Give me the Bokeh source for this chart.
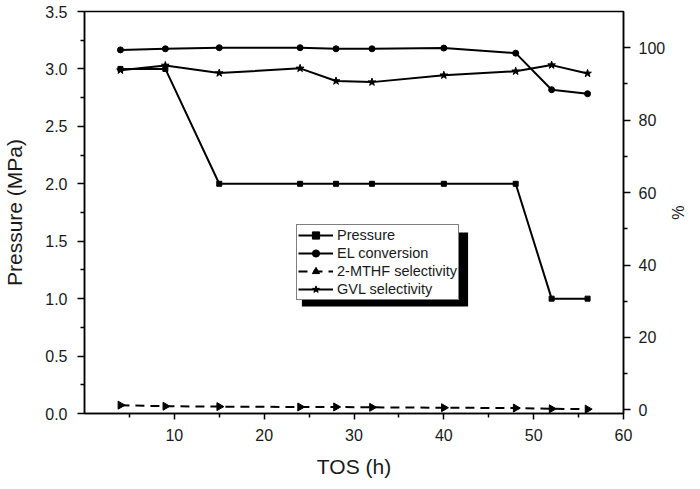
import numpy as np
from bokeh.plotting import figure
from bokeh.models import (LinearAxis, Range1d, FixedTicker, Legend, LegendItem,
                          BoxAnnotation, NumeralTickFormatter)
from bokeh.embed import file_html
from bokeh.resources import INLINE

# ---- data ----
tos = [4, 9, 15, 24, 28, 32, 40, 48, 52, 56]
pressure = [3.0, 3.0, 2.0, 2.0, 2.0, 2.0, 2.0, 2.0, 1.0, 1.0]
el_conversion = [99.4, 99.7, 100.0, 100.0, 99.7, 99.7, 99.9, 98.5, 88.4, 87.3]
mthf_selectivity = [1.3, 1.0, 0.9, 0.8, 0.8, 0.7, 0.6, 0.5, 0.3, 0.2]
gvl_selectivity = [93.8, 95.1, 93.0, 94.3, 90.8, 90.5, 92.4, 93.5, 95.2, 92.9]

x_major = [10, 20, 30, 40, 50, 60]
x_minor = [5, 15, 25, 35, 45, 55]
yl_major = [0.0, 0.5, 1.0, 1.5, 2.0, 2.5, 3.0, 3.5]
yl_minor = [0.25, 0.75, 1.25, 1.75, 2.25, 2.75, 3.25]
yr_major = [0, 20, 40, 60, 80, 100]
yr_minor = [10, 30, 50, 70, 90]

FONT = "Liberation Sans"

p = figure(width=700, height=489, x_range=Range1d(0, 60), y_range=Range1d(0, 3.5),
           output_backend="svg", toolbar_location=None,
           min_border_left=83, min_border_right=77, min_border_top=11, min_border_bottom=76)
p.extra_y_ranges = {"pct": Range1d(-1, 110)}
p.xgrid.visible = False
p.ygrid.visible = False
p.outline_line_color = "black"
p.outline_line_width = 1.5
p.background_fill_color = "white"
p.border_fill_color = "white"


def style_axis(ax, major_len=7, minor_len=4):
    ax.axis_line_color = "black"
    ax.axis_line_width = 1.5
    ax.major_tick_line_color = "black"
    ax.major_tick_line_width = 1.5
    ax.minor_tick_line_color = "black"
    ax.minor_tick_line_width = 1.5
    ax.major_tick_out = major_len
    ax.major_tick_in = 0
    ax.minor_tick_out = minor_len
    ax.minor_tick_in = 0
    ax.major_label_text_font = FONT
    ax.major_label_text_font_size = "16px"
    ax.major_label_text_color = "#1a1a1a"
    ax.axis_label_text_font = FONT
    ax.axis_label_text_font_size = "21px"
    ax.axis_label_text_font_style = "normal"
    ax.axis_label_text_color = "#1a1a1a"


xa = p.xaxis[0]
xa.ticker = FixedTicker(ticks=x_major, minor_ticks=x_minor)
xa.axis_label = "TOS (h)"
style_axis(xa, 6, 4)
xa.major_label_standoff = 9
xa.axis_label_standoff = 11

ya = p.yaxis[0]
ya.ticker = FixedTicker(ticks=yl_major, minor_ticks=yl_minor)
ya.formatter = NumeralTickFormatter(format="0.0")
ya.axis_label = "Pressure (MPa)"
style_axis(ya, 7, 4)
ya.major_label_standoff = 10
ya.axis_label_standoff = 16

yr = LinearAxis(y_range_name="pct", axis_label="%",
                ticker=FixedTicker(ticks=yr_major, minor_ticks=yr_minor))
style_axis(yr, 7, 4)
yr.major_label_standoff = 8
yr.axis_label_standoff = 1
yr.axis_label_text_font_size = "16px"
p.add_layout(yr, "right")

LW = 2
# Pressure
l1 = p.line(tos, pressure, line_color="black", line_width=LW)
s1 = p.scatter(tos, pressure, marker="square", size=5, fill_color="black", line_color="black")
# EL conversion
l2 = p.line(tos, el_conversion, y_range_name="pct", line_color="black", line_width=LW)
s2 = p.scatter(tos, el_conversion, y_range_name="pct", marker="circle", size=6,
               fill_color="black", line_color="black")
# 2-MTHF selectivity
l3 = p.line(tos, mthf_selectivity, y_range_name="pct", line_color="black", line_width=LW,
            line_dash="9 6")
s3 = p.scatter(tos, mthf_selectivity, y_range_name="pct", marker="triangle", size=8,
               angle=-np.pi / 2, angle_units="rad", fill_color="black", line_color="black")
# GVL selectivity
l4 = p.line(tos, gvl_selectivity, y_range_name="pct", line_color="black", line_width=LW)
s4 = p.scatter(tos, gvl_selectivity, y_range_name="pct", marker="star", size=8,
               fill_color="black", line_color="black")

# legend shadow (layout only, data coordinates of the left axis)
shadow = BoxAnnotation(left=24.2, right=42.7, bottom=0.932, top=1.576,
                       fill_color="black", fill_alpha=1.0, line_color=None)
p.add_layout(shadow)

legend = Legend(items=[
    LegendItem(label="Pressure", renderers=[l1, s1]),
    LegendItem(label="EL conversion", renderers=[l2, s2]),
    LegendItem(label="2-MTHF selectivity", renderers=[l3, s3]),
    LegendItem(label="GVL selectivity", renderers=[l4, s4]),
], location=(212, 113))
legend.border_line_color = "black"
legend.border_line_width = 1
legend.background_fill_color = "white"
legend.background_fill_alpha = 1.0
legend.label_text_font = FONT
legend.label_text_font_size = "14.5px"
legend.label_text_color = "#1a1a1a"
legend.glyph_width = 35
legend.glyph_height = 18
legend.label_height = 18
legend.label_standoff = 4
legend.spacing = 0
legend.padding = 1
legend.margin = 0
p.add_layout(legend)

open("out.html", "w").write(file_html(p, INLINE))
